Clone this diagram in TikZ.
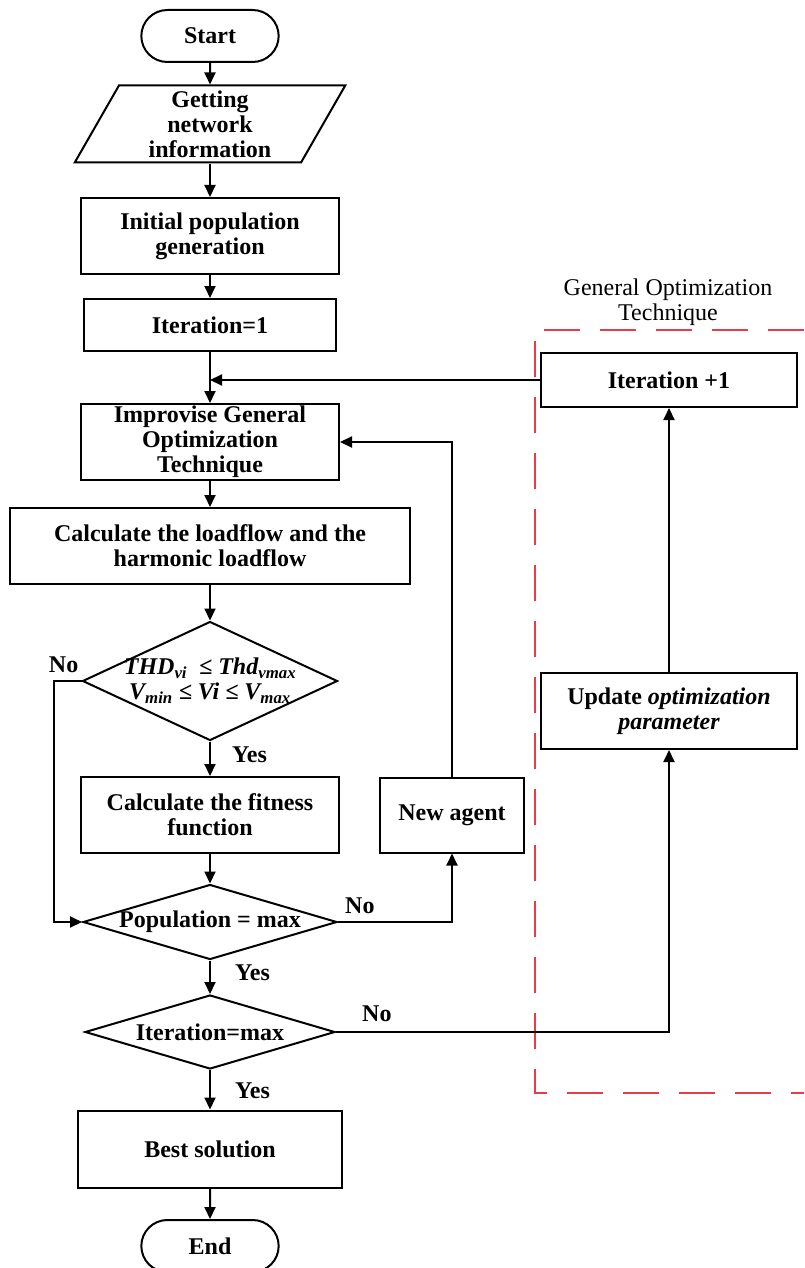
\documentclass[tikz,border=0pt]{standalone}
\usepackage{fontspec}
\setmainfont{Liberation Serif}
\usepackage{tikz}
\usetikzlibrary{positioning, shapes.geometric, shapes.misc, arrows.meta}
\definecolor{frameRed}{RGB}{234,60,70}

\begin{document}
\begin{tikzpicture}[x=1pt, y=-1pt, >={Triangle[length=12pt, width=11pt]},
  font=\fontsize{24}{25}\selectfont]
  \tikzstyle{base}=[draw, line width=2pt, align=center, font=\fontsize{24}{25}\selectfont\bfseries]
  \tikzstyle{proc}=[base, rectangle, inner sep=0pt, minimum height=76pt]
  \tikzstyle{term}=[base, rounded rectangle, minimum width=144pt, minimum height=52pt]
  \tikzstyle{io}=[base, trapezium, trapezium left angle=66, trapezium right angle=114,
  trapezium stretches=true, inner sep=0pt, minimum width=271pt, minimum height=77pt]
  \tikzstyle{decide}=[base, diamond, inner sep=0pt]
  \tikzstyle{lbl}=[inner sep=1pt, font=\fontsize{24}{25}\selectfont\bfseries]
  \tikzstyle{flow}=[->, line width=2pt]
  \tikzstyle{gotframe}=[draw=frameRed, line width=2pt, dash pattern=on 36pt off 20pt]

  \useasboundingbox (0,0) rectangle (804,1268);

  % main column
  \node (start) at (210,36) [term] {Start};
  \node (info) at (210,124) [io] {Getting\\network\\information};
  \node (initpop) at (210,236) [proc, minimum width=258pt] {Initial population\\generation};
  \node (iterone) at (210,325) [proc, minimum width=252pt, minimum height=52pt] {Iteration=1};
  \node (improvise) at (210,442) [proc, minimum width=258pt] {Improvise General\\Optimization\\Technique};
  \node (loadflow) at (210,546) [proc, minimum width=400pt] {Calculate the loadflow and the\\harmonic loadflow};
  \node (thdcheck) at (210,681) [decide, minimum width=255pt, minimum height=119pt,
  label={[font=\fontsize{24}{25}\selectfont\bfseries\itshape, align=center]center:{THD\textsubscript{vi}\ \ ≤ Thd\textsubscript{vmax}\\V\textsubscript{min} ≤ Vi ≤ V\textsubscript{max}}}] {};
  \node (fitness) at (210,815) [proc, minimum width=258pt] {Calculate the fitness\\function};
  \node (popmax) at (210,922) [decide, minimum width=254pt, minimum height=75pt,
  label={[font=\fontsize{24}{25}\selectfont\bfseries]center:Population = max}] {};
  \node (itermax) at (210,1032) [decide, minimum width=250pt, minimum height=74pt,
  label={[font=\fontsize{24}{25}\selectfont\bfseries]center:Iteration=max}] {};
  \node (best) at (210,1149) [proc, minimum width=264pt, minimum height=77pt] {Best solution};
  \node (finish) at (210,1246) [term] {End};

  \node (newagent) at (452,815) [proc, minimum width=144pt, minimum height=75pt] {New agent};

  % general optimization technique
  \node (gottitle) at (668,302) [align=center] {General Optimization\\Technique};
  \node (iterplus) at (669,380) [proc, minimum width=256pt, minimum height=54pt] {Iteration +1};
  \node (update) at (669,711) [proc, minimum width=256pt] {Update \textit{optimization}\\\textit{parameter}};
  \draw[gotframe] (804,330) -- (535,330) -- (535,1093) -- (804,1093);

  \draw[flow] (start) -- (info);
  \draw[flow] (info) -- (initpop);
  \draw[flow] (initpop) -- (iterone);
  \draw[flow] (iterone) -- (improvise);
  \draw[flow] (iterplus.west) -- (iterplus.west -| iterone.south);
  \draw[flow] (improvise) -- (loadflow);
  \draw[flow] (loadflow) -- (thdcheck);
  \draw[flow] (thdcheck) -- (fitness);
  \draw[flow] (thdcheck.west) -- ++(-28,0) |- (popmax.west);
  \draw[flow] (fitness) -- (popmax);
  \draw[flow] (popmax.east) -| (newagent.south);
  \draw[flow] (newagent.north) |- (improvise.east);
  \draw[flow] (popmax) -- (itermax);
  \draw[flow] (itermax.east) -| (update.south);
  \draw[flow] (itermax) -- (best);
  \draw[flow] (best) -- (finish);
  \draw[flow] (update) -- (iterplus);

  \node[lbl, above left=7pt and 2pt of thdcheck.west] {No};
  \node[lbl, below right=4pt and 21pt of thdcheck.south] {Yes};
  \node[lbl, above right=7pt and 6pt of popmax.east] {No};
  \node[lbl, below right=3pt and 24pt of popmax.south] {Yes};
  \node[lbl, above right=9pt and 25pt of itermax.east] {No};
  \node[lbl, below right=12pt and 24pt of itermax.south] {Yes};
\end{tikzpicture}
\end{document}
